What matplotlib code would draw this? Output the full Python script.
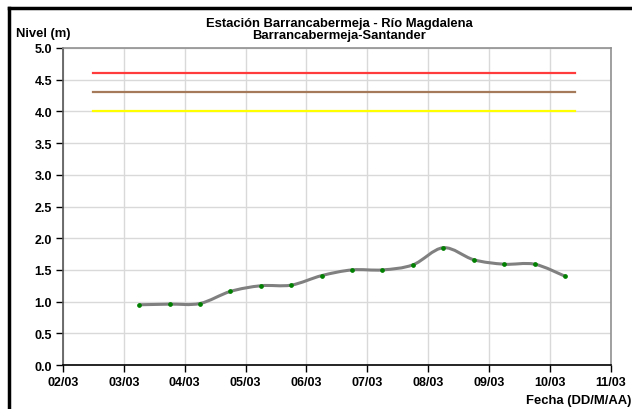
import matplotlib.pyplot as plt
import numpy as np
from matplotlib.path import Path
from matplotlib.patches import PathPatch
from matplotlib.lines import Line2D

plt.rcParams['font.family'] = ['Liberation Sans', 'DejaVu Sans']
plt.rcParams['font.weight'] = 'bold'

# days of March (half-day readings)
dias = [3.25, 3.75, 4.25, 4.75, 5.25, 5.75, 6.25, 6.75,
        7.25, 7.75, 8.25, 8.75, 9.25, 9.75, 10.25]
nivel = [0.95, 0.96, 0.97, 1.16, 1.25, 1.26, 1.41, 1.50,
         1.50, 1.58, 1.85, 1.66, 1.59, 1.59, 1.40]

# alert levels
umbral_x = [2.5, 10.42]
umbral_rojo = 4.6
umbral_naranja = 4.3
umbral_amarillo = 4.0

tick_dias = [2, 3, 4, 5, 6, 7, 8, 9, 10, 11]
tick_labels = ['02/03', '03/03', '04/03', '05/03', '06/03',
               '07/03', '08/03', '09/03', '10/03', '11/03']


def smoothPath(xs, ys):
    # excel-like smoothed line (catmull-rom as cubic bezier)
    pts = np.column_stack([xs, ys])
    verts = [pts[0]]
    codes = [Path.MOVETO]
    n = len(pts)
    for i in range(n - 1):
        p0 = pts[i - 1] if i > 0 else pts[i]
        p1 = pts[i]
        p2 = pts[i + 1]
        p3 = pts[i + 2] if i + 2 < n else pts[i + 1]
        c1 = p1 + (p2 - p0) / 6.0
        c2 = p2 - (p3 - p1) / 6.0
        verts += [c1, c2, p2]
        codes += [Path.CURVE4] * 3
    return Path(verts, codes)


fig = plt.figure(figsize=(6.32, 4.10), dpi=100)
ax = fig.add_axes([0.0997, 0.1073, 0.8666, 0.7732])

ax.plot(umbral_x, [umbral_rojo] * 2, color='#ff3b3b', lw=1.6, zorder=3)
ax.plot(umbral_x, [umbral_naranja] * 2, color='#a57a5a', lw=1.6, zorder=3)
ax.plot(umbral_x, [umbral_amarillo] * 2, color='#ffff00', lw=1.6, zorder=3)

ax.add_patch(PathPatch(smoothPath(dias, nivel), facecolor='none',
                       edgecolor='#808080', lw=2.2, zorder=4))
ax.plot(dias, nivel, ls='none', marker='o', ms=2.4, color='#008000',
        mec='#008000', zorder=5)

ax.set_xlim(2, 11)
ax.set_ylim(0, 5)
ax.set_xticks(tick_dias)
ax.set_xticklabels(tick_labels)
ax.set_yticks(np.arange(0, 5.01, 0.5))
ax.set_yticklabels(['%.1f' % v for v in np.arange(0, 5.01, 0.5)])
ax.tick_params(labelsize=9, length=5, width=1, colors='black', pad=3)
ax.grid(True, color='#d9d9d9', lw=1)
ax.set_axisbelow(True)

for s in ['top', 'right']:
    ax.spines[s].set_color('#909090')
    ax.spines[s].set_linewidth(1.2)
ax.spines['left'].set_color('#555555')
ax.spines['left'].set_linewidth(1.2)
ax.spines['bottom'].set_color('black')
ax.spines['bottom'].set_linewidth(1.2)

# titles
fig.text(339 / 632, 1 - 24 / 410, 'Estación Barrancabermeja - Río Magdalena',
         ha='center', va='center', fontsize=9.4, fontweight='bold')
fig.text(339 / 632, 1 - 36 / 410, 'Barrancabermeja-Santander',
         ha='center', va='center', fontsize=9.4, fontweight='bold')
fig.text(16 / 632, 1 - 34.5 / 410, 'Nivel (m)', ha='left', va='center',
         fontsize=9.4, fontweight='bold')
fig.text(631 / 632, 1 - 401 / 410, 'Fecha (DD/M/AA)', ha='right', va='center',
         fontsize=9.4, fontweight='bold')

# outer border (top and left)
fig.add_artist(Line2D([9 / 632, 1], [1 - 8.5 / 410] * 2, color='black', lw=2.5,
                      transform=fig.transFigure))
fig.add_artist(Line2D([9 / 632] * 2, [0, 1 - 8.5 / 410], color='black', lw=2.5,
                      transform=fig.transFigure))

fig.savefig('out.png', dpi=100)
